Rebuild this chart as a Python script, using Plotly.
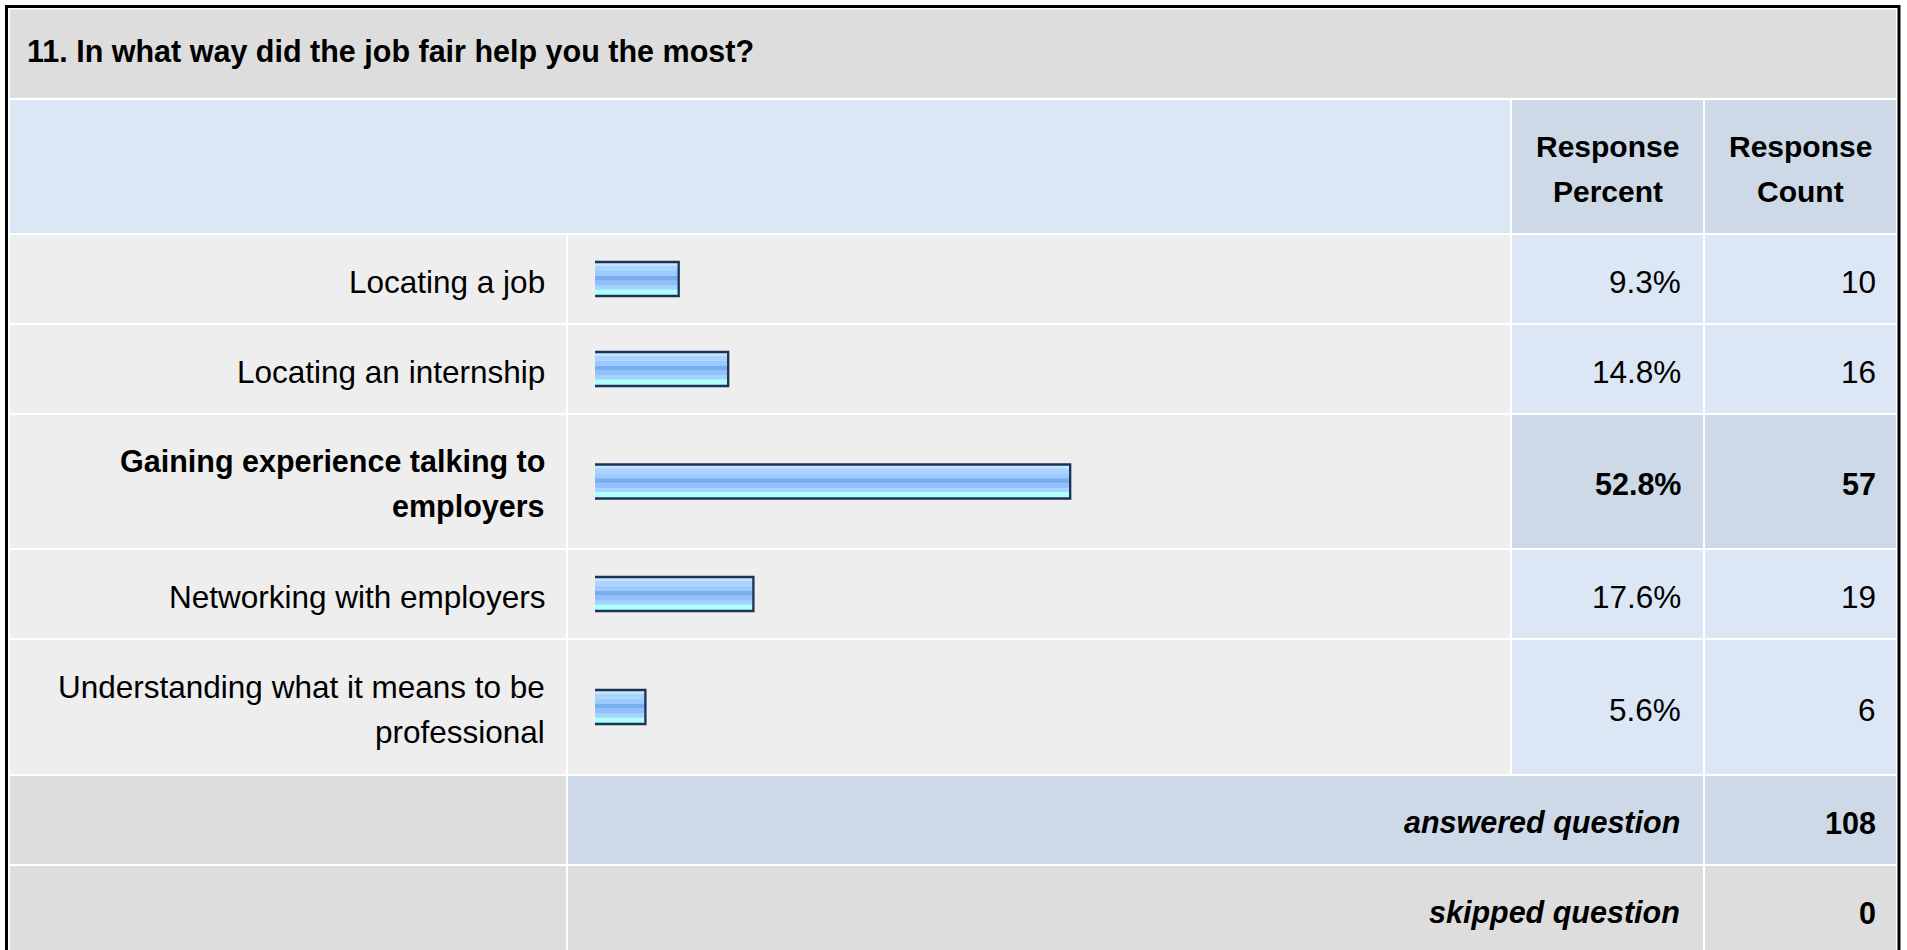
import plotly.graph_objects as go

# ---------------- data ----------------
question = "11. In what way did the job fair help you the most?"
answer_choices = [
    "Locating a job",
    "Locating an internship",
    "Gaining experience talking to<br>employers",
    "Networking with employers",
    "Understanding what it means to be<br>professional",
]
response_percent = [9.3, 14.8, 52.8, 17.6, 5.6]
response_count = [10, 16, 57, 19, 6]
header_labels = ["Response<br>Percent", "Response<br>Count"]
summary_labels = ["answered question", "skipped question"]
summary_values = [108, 0]

# ---------------- layout constants ----------------
W, H = 1907, 950
FONT = "Liberation Sans, Arial, Helvetica, sans-serif"
GAP = 2
X_L = (10, 566)
X_B = (568, 1510)
X_P = (1512, 1703)
X_C = (1705, 1896)
TOP = 9.5
TITLE_H = 88.5
HEADER_H = 133
ROW_H = [88, 88, 133, 88, 134]
SUM_H = [88, 110]
LINE_SP = 45
TEXT_DY = 2.5

C_TITLE = "#DDDDDD"
C_LIGHT = "#DCE7F5"
C_MID = "#CDD9E6"
C_BODY = "#EEEEEE"
C_GREY = "#DDDDDD"

BAR_H = 34
BAR_BANDS = [(3.7, "#C8E6FF"), (5, "#A8D4FF"), (5, "#9ACAFF"), (5, "#79ADF0"),
             (5, "#8FC2FA"), (4, "#A2D4FF"), (6.3, "#B0FFFF")]
BAR_EDGE = "#1B3354"
PX_PER_PCT = 9.0
BAR_LEFT_PAD = 7  # px the bar starts left of the zero point
ZERO_PX = 595

shapes = []
annotations = []


def rect(x0, x1, y0, y1, color):
    shapes.append(dict(type="rect", xref="paper", yref="y", x0=x0 / W, x1=x1 / W,
                       y0=y0, y1=y1, fillcolor=color, line=dict(width=0), layer="below"))


def text(t, xpx, y, anchor, size, bold=False, italic=False):
    if bold:
        t = "<b>" + t + "</b>"
    if italic:
        t = "<i>" + t + "</i>"
    annotations.append(dict(text=t, xref="paper", yref="y", x=xpx / W, y=y,
                            xanchor=anchor, yanchor="middle", showarrow=False,
                            font=dict(family=FONT, size=size, color="black")))


def multiline(t, xpx, yc, anchor, size, bold=False, italic=False):
    lines = t.split("<br>")
    n = len(lines)
    for i, ln in enumerate(lines):
        text(ln, xpx, yc + TEXT_DY + (i - (n - 1) / 2) * LINE_SP, anchor, size, bold, italic)


# title band
y = TOP
rect(X_L[0], X_C[1], y, y + TITLE_H, C_TITLE)
text(question, 25, y + TITLE_H / 2 - 2, "left", 30.5, bold=True)
y += TITLE_H + GAP

# header
rect(X_L[0], X_B[1], y, y + HEADER_H, C_LIGHT)
rect(X_P[0], X_P[1], y, y + HEADER_H, C_MID)
rect(X_C[0], X_C[1], y, y + HEADER_H, C_MID)
multiline(header_labels[0], (X_P[0] + X_P[1]) / 2, y + HEADER_H / 2, "center", 30, bold=True)
multiline(header_labels[1], (X_C[0] + X_C[1]) / 2, y + HEADER_H / 2, "center", 30, bold=True)
y += HEADER_H + GAP

# body rows
best = response_count.index(max(response_count))
centers = []
for i, (lab, pct, cnt) in enumerate(zip(answer_choices, response_percent, response_count)):
    h = ROW_H[i]
    hl = (i == best)
    rect(X_L[0], X_L[1], y, y + h, C_BODY)
    rect(X_B[0], X_B[1], y, y + h, C_BODY)
    rect(X_P[0], X_P[1], y, y + h, C_MID if hl else C_LIGHT)
    rect(X_C[0], X_C[1], y, y + h, C_MID if hl else C_LIGHT)
    yc = y + h / 2
    centers.append(yc)
    sz = 30.5 if hl else 31.5
    multiline(lab, X_L[1] - 19, yc, "right", sz, bold=hl)
    text(f"{pct:.1f}%", X_P[1] - 20, yc + TEXT_DY, "right", sz, bold=hl)
    text(str(cnt), X_C[1] - 18, yc + TEXT_DY, "right", sz, bold=hl)
    y += h + GAP

# summary rows
for i, (lab, val) in enumerate(zip(summary_labels, summary_values)):
    h = SUM_H[i]
    mid = C_MID if i == 0 else C_GREY
    rect(X_L[0], X_L[1], y, y + h, C_GREY)
    rect(X_B[0], X_P[1], y, y + h, mid)
    rect(X_C[0], X_C[1], y, y + h, mid)
    yc = y + (88 / 2)
    text(lab, X_P[1] - 21, yc + TEXT_DY, "right", 30.5, bold=True, italic=True)
    text(str(val), X_C[1] - 18, yc + TEXT_DY, "right", 30.5, bold=True)
    y += h + GAP

# outer frame
shapes.append(dict(type="rect", xref="paper", yref="y", x0=6.5 / W, x1=1899 / W,
                   y0=6.5, y1=H + 30, line=dict(color="black", width=3),
                   fillcolor="rgba(0,0,0,0)", layer="above"))

# ---------------- bars ----------------
# bars are drawn from a small left padding (base) up to the percent value
fig = go.Figure()
pad = BAR_LEFT_PAD / PX_PER_PCT
lengths = [p + pad for p in response_percent]
off = -BAR_H / 2
for bh, col in BAR_BANDS:
    fig.add_trace(go.Bar(x=lengths, y=centers, base=-pad, orientation="h",
                         width=bh, offset=off, marker=dict(color=col, line=dict(width=0)),
                         hoverinfo="skip", showlegend=False))
    off += bh
fig.add_trace(go.Bar(x=lengths, y=centers, base=-pad, orientation="h",
                     width=BAR_H, offset=-BAR_H / 2,
                     marker=dict(color="rgba(0,0,0,0)", line=dict(color=BAR_EDGE, width=2.3)),
                     hoverinfo="skip", showlegend=False))

fig.update_layout(
    width=W, height=H, margin=dict(l=0, r=0, t=0, b=0),
    paper_bgcolor="white", plot_bgcolor="rgba(0,0,0,0)",
    barmode="overlay", showlegend=False,
    xaxis=dict(domain=[ZERO_PX / W, (ZERO_PX + 100 * PX_PER_PCT) / W], range=[0, 100],
               visible=False, fixedrange=True),
    yaxis=dict(domain=[0, 1], range=[H, 0], visible=False, fixedrange=True),
    shapes=shapes, annotations=annotations,
)

fig.write_html("out.html", config={"displayModeBar": False},
               post_script="document.body.style.margin='0';document.body.style.overflow='hidden';")
